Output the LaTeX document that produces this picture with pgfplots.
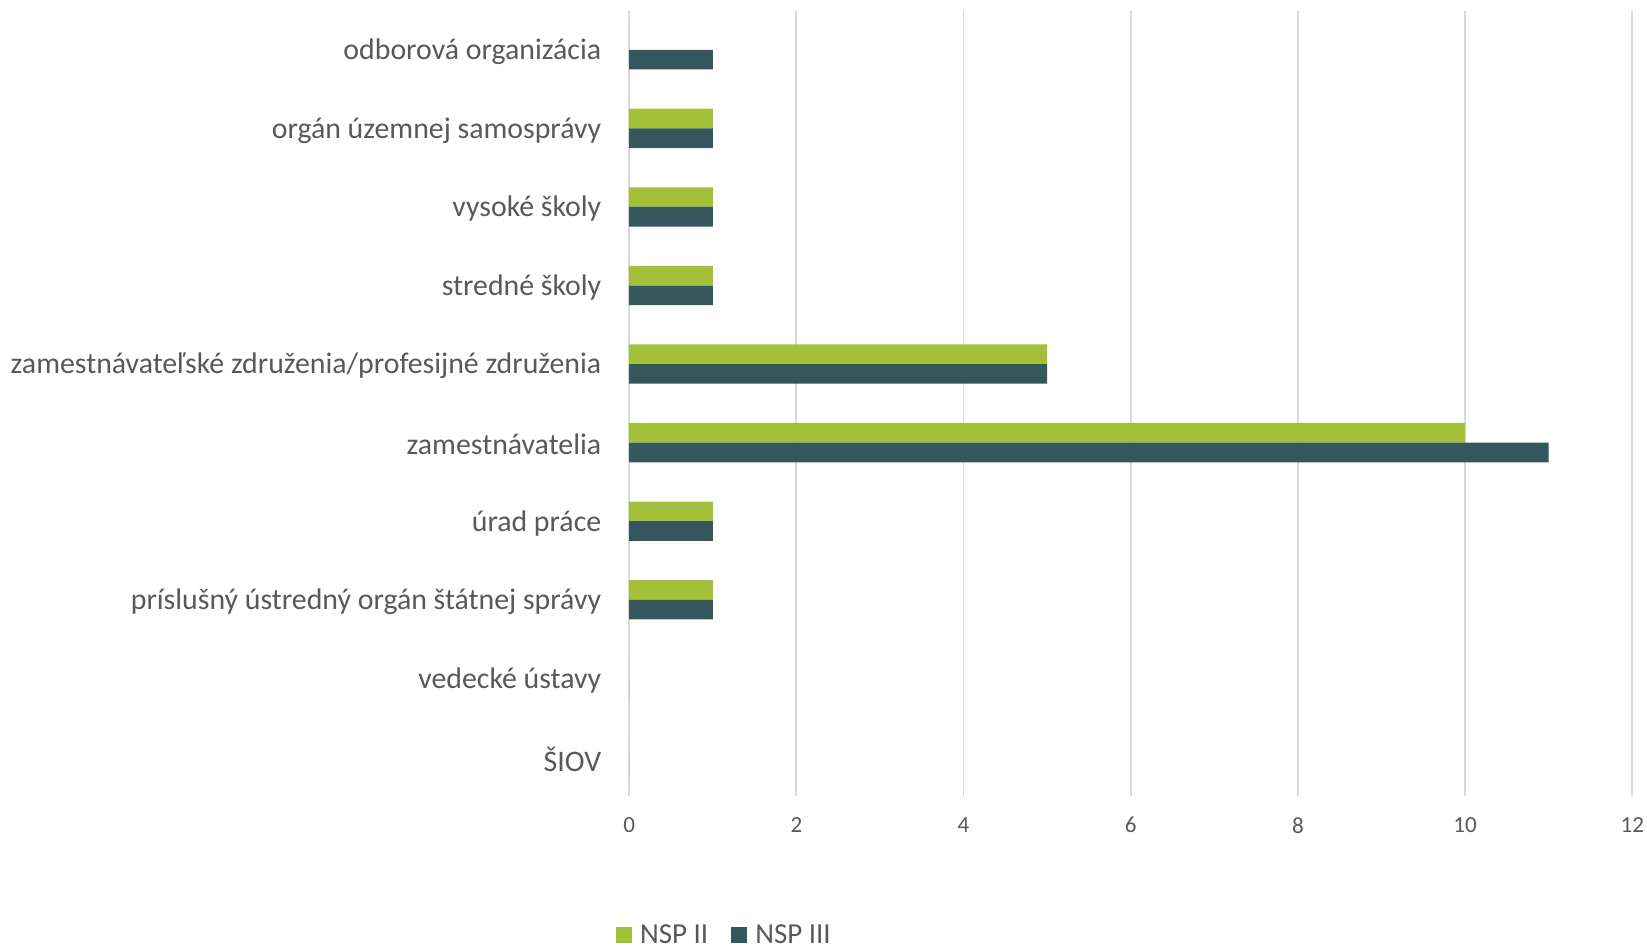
\documentclass[border=0pt]{standalone}
\usepackage{pgfplots}
\pgfplotsset{compat=1.18}
\usepackage{fontspec}
\setmainfont{Carlito}
\definecolor{nspii}{HTML}{A3C038}
\definecolor{nspiii}{HTML}{33575D}
\definecolor{txt}{HTML}{595959}
\definecolor{grd}{HTML}{D9D9D9}
\begin{document}
\begin{tikzpicture}
\path[use as bounding box] (-299.5pt,-74pt) rectangle (484.5pt,379pt);
\begin{axis}[
  at={(0,0)}, anchor=south west,
  scale only axis,
  width=477.5pt, height=374pt,
  xbar,
  xmin=0, xmax=12,
  ymin=-0.5, ymax=9.5,
  bar width=0.25,
  axis line style={draw=none},
  tick style={draw=none},
  xtick={0,2,...,12},
  ytick={0,...,9},
  yticklabels={ŠIOV, vedecké ústavy, príslušný ústredný orgán štátnej správy, úrad práce, zamestnávatelia, zamestnávateľské združenia/profesijné združenia, stredné školy, vysoké školy, orgán územnej samosprávy, odborová organizácia},
  xmajorgrids,
  grid style={grd, line width=0.9pt},
  /pgf/number format/assume math mode=true,
  xticklabel style={font=\fontsize{11}{13}\selectfont, text=txt},
  yticklabel style={font=\fontsize{14.2}{16}\selectfont, text=txt, yshift=-1pt},
  xtick pos=bottom,
  xticklabel shift=6.5pt,
  yticklabel shift=5.5pt,
  legend style={at={(-0.013,-0.177)}, anchor=west, draw=none,
    inner sep=0pt, outer sep=0pt,
    legend columns=2, font=\fontsize{13.8}{16}\selectfont, text=txt,
    nodes={inner xsep=0pt},
    /tikz/every odd column/.append style={column sep=3.8pt},
    /tikz/every even column/.append style={column sep=11pt}},
  legend image code/.code={\fill[#1] (0pt,-3.8pt) rectangle (7.6pt,3.8pt);},
  clip=false,
]
\addplot[draw=none, fill=nspii, bar shift=0.125] coordinates {
  (0,0) (0,1) (1,2) (1,3) (10,4) (5,5) (1,6) (1,7) (1,8) (0,9)};
\addlegendentry{NSP II}
\addplot[draw=none, fill=nspiii, bar shift=-0.125] coordinates {
  (0,0) (0,1) (1,2) (1,3) (11,4) (5,5) (1,6) (1,7) (1,8) (1,9)};
\addlegendentry{NSP III}
\end{axis}
\end{tikzpicture}
\end{document}
